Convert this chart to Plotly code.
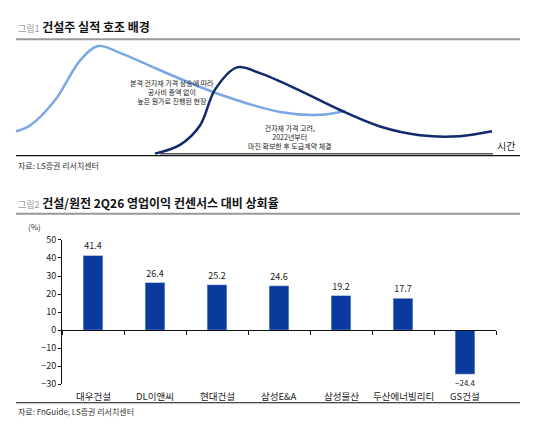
import plotly.graph_objects as go

# top panel: conceptual curves in pixel units
light_x = [16, 30, 55, 80, 98, 120, 160, 220, 280, 320, 345]
light_y = [128, 122, 96, 55, 40, 47, 65, 90, 108, 111, 107]
dark_x = [155, 180, 200, 215, 237, 260, 300, 340, 380, 420, 460, 492]
dark_y = [151, 142, 122, 85, 62, 68, 86, 106, 123, 132, 133, 128]

# bottom panel
companies = ["대우건설", "DL이앤씨", "현대건설", "삼성E&A", "삼성물산", "두산에너빌리티", "GS건설"]
beat_rate = [41.4, 26.4, 25.2, 24.6, 19.2, 17.7, -24.4]
y_ticks = [50, 40, 30, 20, 10, 0, -10, -20, -30]

# page body has an 8px margin, so the figure is 8px smaller and ranges start at 8
OFF = 8
W, H = 547 - OFF, 433 - OFF
def px(p):
    return (p - OFF) / W
def py(p):
    return 1 - (p - OFF) / H

fig = go.Figure()
fig.add_trace(go.Scatter(x=light_x, y=light_y, mode="lines", line_shape="spline",
                         line=dict(color="#7ba7e6", width=2.5), xaxis="x", yaxis="y"))
fig.add_trace(go.Scatter(x=dark_x, y=dark_y, mode="lines", line_shape="spline",
                         line=dict(color="#102a6b", width=2.5), xaxis="x", yaxis="y"))

idx = list(range(len(companies)))
fig.add_trace(go.Bar(x=idx, y=beat_rate, width=0.32, marker_color="#0b3a9e",
                     xaxis="x2", yaxis="y2",
                     text=[("−%.1f" % -v) if v < 0 else "%.1f" % v for v in beat_rate],
                     textposition="outside", cliponaxis=False,
                     textfont=dict(size=9, color="#222")))

font = "Noto Sans CJK KR"
ann = []
def txt(x, y, s, size=8, color="#222", xanchor="center", xref="x", yref="y"):
    ann.append(dict(x=x, y=y, xref=xref, yref=yref, text=s, showarrow=False,
                    font=dict(size=size, color=color), xanchor=xanchor))

txt(16, 20, "<span style='color:#999;font-size:9px'>그림1</span> <b>건설주 실적 호조 배경</b>", 12, "#111", "left")
txt(172, 87, "본격 건자재 가격 상승에 따라<br>공사비 증액 없이<br>높은 원가로 진행된 현장", 7)
txt(290, 134, "건자재 가격 고려,<br>2022년부터<br>마진 확보한 후 도급계약 체결", 7)
txt(506, 143, "시간", 10)
txt(16, 163, "자료: LS증권 리서치센터", 8, "#333", "left")
txt(16, 201, "<span style='color:#999;font-size:9px'>그림2</span> <b>건설/원전 2Q26 영업이익 컨센서스 대비 상회율</b>", 12, "#111", "left")
txt(26, 226, "(%)", 8, "#333", "left")
txt(16, 417, "자료: FnGuide, LS증권 리서치센터", 8, "#333", "left")
for i, c in enumerate(companies):
    ann.append(dict(x=i, y=401, xref="x2", yref="y", text=c, showarrow=False,
                    font=dict(size=9.5, color="#222")))

shapes = [
    dict(type="line", xref="x", yref="y", x0=16, x1=520, y0=33, y1=33, line=dict(color="#999", width=2)),
    dict(type="line", xref="x", yref="y", x0=16, x1=520, y0=153, y1=153, line=dict(color="#111", width=1.2)),
    dict(type="line", xref="x", yref="y", x0=16, x1=520, y0=213, y1=213, line=dict(color="#999", width=2)),
    dict(type="line", xref="x", yref="y", x0=16, x1=520, y0=408, y1=408, line=dict(color="#111", width=1.2)),
    dict(type="line", xref="x", yref="y", x0=160, x1=493, y0=151, y1=151, line=dict(color="#555", width=1.5)),
]

fig.update_layout(
    width=W, height=H, margin=dict(l=0, r=0, t=0, b=0),
    paper_bgcolor="white", plot_bgcolor="rgba(0,0,0,0)", showlegend=False,
    font=dict(family=font, color="#222"),
    xaxis=dict(domain=[0, 1], range=[OFF, 547], visible=False),
    yaxis=dict(domain=[0, 1], range=[433, OFF], visible=False),
    xaxis2=dict(domain=[px(62), px(496)], range=[-0.5, 6.5], anchor="free",
                position=py(333), showline=True, linecolor="#111",
                tickvals=[i - 0.5 for i in range(8)], ticktext=[""] * 8,
                ticks="outside", ticklen=4, tickcolor="#111", showgrid=False, zeroline=False),
    yaxis2=dict(domain=[py(389), py(240)], range=[-30, 50], anchor="x2",
                tickvals=y_ticks, ticktext=[str(v).replace("-", "−") for v in y_ticks],
                showline=True, linecolor="#111", ticks="outside", ticklen=3,
                tickcolor="#111", showgrid=False, zeroline=False,
                tickfont=dict(size=9, color="#222")),
    annotations=ann, shapes=shapes,
)
fig.write_html("out.html")
